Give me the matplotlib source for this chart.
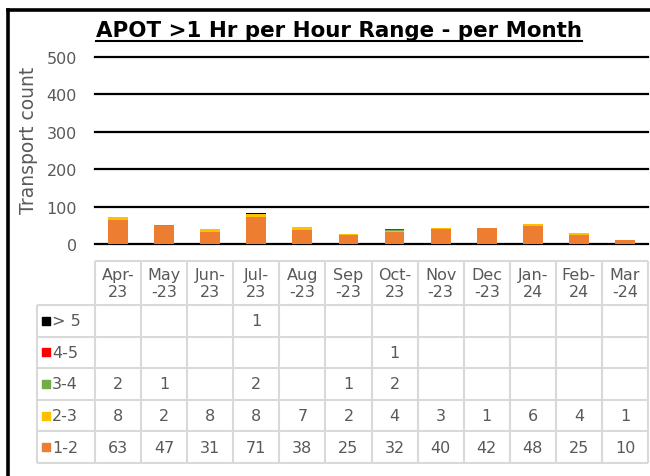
import matplotlib.pyplot as plt
from matplotlib.lines import Line2D
import numpy as np

months = ["Apr-\n23", "May\n-23", "Jun-\n23", "Jul-\n23", "Aug\n-23", "Sep\n-23",
          "Oct-\n23", "Nov\n-23", "Dec\n-23", "Jan-\n24", "Feb-\n24", "Mar\n-24"]

# hour ranges, listed top row first (as in the data table)
range_labels = ["> 5", "4-5", "3-4", "2-3", "1-2"]
range_colors = ["#000000", "#FF0000", "#70AD47", "#FFC000", "#ED7D31"]

gt_5 = [None, None, None, 1, None, None, None, None, None, None, None, None]
hr_4_5 = [None, None, None, None, None, None, 1, None, None, None, None, None]
hr_3_4 = [2, 1, None, 2, None, 1, 2, None, None, None, None, None]
hr_2_3 = [8, 2, 8, 8, 7, 2, 4, 3, 1, 6, 4, 1]
hr_1_2 = [63, 47, 31, 71, 38, 25, 32, 40, 42, 48, 25, 10]

rows = [gt_5, hr_4_5, hr_3_4, hr_2_3, hr_1_2]

title = "APOT >1 Hr per Hour Range - per Month"
gray = "#595959"
line_gray = "#D9D9D9"

W, H = 650, 477
fig = plt.figure(figsize=(6.5, 4.77), dpi=100)


def px_box(x0, y0, x1, y1):
    return [x0 / W, 1 - y1 / H, (x1 - x0) / W, (y1 - y0) / H]


# --- bar chart ---
ax = fig.add_axes(px_box(95, 58, 648, 245))
x = np.arange(len(months))
bottom = np.zeros(len(months))
for vals, color in zip(rows[::-1], range_colors[::-1]):
    v = np.array([0 if a is None else a for a in vals], dtype=float)
    ax.bar(x, v, 0.43, bottom=bottom, color=color, zorder=3)
    bottom += v

ax.set_xlim(-0.5, len(months) - 0.5)
ax.set_ylim(0, 500)
ax.set_yticks(range(0, 501, 100))
ax.set_xticks([])
ax.yaxis.grid(True, color="black", lw=1.6)
for gl in ax.get_ygridlines():
    gl.set_clip_on(False)
for s in ax.spines.values():
    s.set_visible(False)
ax.tick_params(axis="y", length=0, pad=13, labelsize=11.5, labelcolor=gray)
ax.set_ylabel("Transport count", fontsize=13.5, color=gray)
ax.yaxis.set_label_coords((38 - 95) / 553, 0.56)

# --- data table ---
tax = fig.add_axes(px_box(37, 262, 648, 464))
n = len(months)
col_w = (648 - 95) / n
legend_w = (95 - 37) / col_w
header_h = 44 / 31.6
left = -0.5 - legend_w
tax.set_xlim(left, n - 0.5)
tax.set_ylim(len(rows), -header_h)
tax.axis("off")

lkw = dict(color=line_gray, lw=1.5, clip_on=False)
tax.hlines(-header_h, -0.5, n - 0.5, **lkw)
tax.hlines(np.arange(len(rows) + 1), left, n - 0.5, **lkw)
tax.vlines(np.arange(n + 1) - 0.5, -header_h, len(rows), **lkw)
tax.vlines(left, 0, len(rows), **lkw)

for i, m in enumerate(months):
    tax.text(i, -header_h / 2, m, ha="center", va="center", fontsize=11.5,
             color=gray, linespacing=1.2)

for r, (vals, lab, col) in enumerate(zip(rows, range_labels, range_colors)):
    tax.scatter(left + 9 / col_w, r + 0.5, marker="s", s=28, color=col,
                clip_on=False)
    tax.text(left + 15 / col_w, r + 0.5, lab, ha="left", va="center",
             fontsize=11.5, color=gray)
    for i, v in enumerate(vals):
        if v is not None:
            tax.text(i, r + 0.5, str(v), ha="center", va="center",
                     fontsize=11.5, color=gray)

# --- title with underline ---
t = fig.text(96 / W, 1 - 31 / H, title, fontsize=15.4, fontweight="bold",
             ha="left", va="center", color="black")
fig.canvas.draw()
bb = t.get_window_extent().transformed(fig.transFigure.inverted())
fig.add_artist(Line2D([bb.x0, bb.x1], [1 - 42 / H, 1 - 42 / H],
                      color="black", lw=1.5, transform=fig.transFigure))

# --- outer frame (left and top visible) ---
fig.add_artist(Line2D([8 / W, 8 / W], [0, 1 - 11 / H], color="black", lw=2.6,
                      transform=fig.transFigure))
fig.add_artist(Line2D([8 / W, 1], [1 - 11 / H, 1 - 11 / H], color="black",
                      lw=2.6, transform=fig.transFigure))

fig.savefig("out.png", dpi=100)
